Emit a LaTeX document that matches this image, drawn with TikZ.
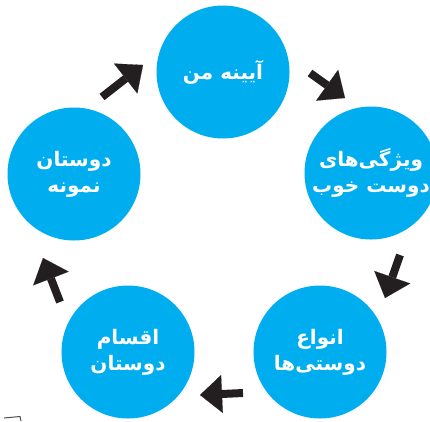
\documentclass[tikz,border=0pt]{standalone}
\usepackage{fontspec}
\newfontfamily\fafont[Script=Arabic]{DejaVu Sans}
\TeXXeTstate=1
\usetikzlibrary{arrows.meta}
\definecolor{cyanb}{HTML}{00AEEF}
\definecolor{arrowk}{HTML}{231F20}
\begin{document}
\begin{tikzpicture}[x=1pt,y=-1pt,
  circ/.style={circle, fill=cyanb, minimum size=133pt, inner sep=0pt, text=white,
    font=\fafont\bfseries\fontsize{20}{26}\selectfont, align=center},
  arr/.style={draw=arrowk, line width=8pt,
    -{Triangle[length=22pt,width=38pt,line width=0.1pt]}}]
\useasboundingbox (0,0) rectangle (430,421);
\node[circ] (top) at (223,72) {\beginR آیینه من\endR};
\node[circ] (right) at (371,173) {\beginR ویژگی‌های\endR\\\beginR دوست خوب\endR};
\node[circ] (br) at (320,352) {\beginR انواع\endR\\\beginR دوستی‌ها\endR};
\node[circ] (bl) at (128,352) {\beginR اقسام\endR\\\beginR دوستان\endR};
\node[circ] (left) at (74,174) {\beginR دوستان\endR\\\beginR نمونه\endR};
\coordinate (a1s) at (310,73);  \coordinate (a1e) at (345,98);
\coordinate (a2s) at (400,255); \coordinate (a2e) at (385,298);
\coordinate (a3s) at (243,393); \coordinate (a3e) at (200,395);
\coordinate (a4s) at (60,302);  \coordinate (a4e) at (43,258);
\coordinate (a5s) at (102,97);  \coordinate (a5e) at (143,65);
\draw[arr] (a1s) -- (a1e);
\draw[arr] (a2s) -- (a2e);
\draw[arr] (a3s) -- (a3e);
\draw[arr] (a4s) -- (a4e);
\draw[arr] (a5s) -- (a5e);
\draw[line width=1pt, arrowk!80] (4,418) -- (20,416.5) -- (21,421);
\end{tikzpicture}
\end{document}
